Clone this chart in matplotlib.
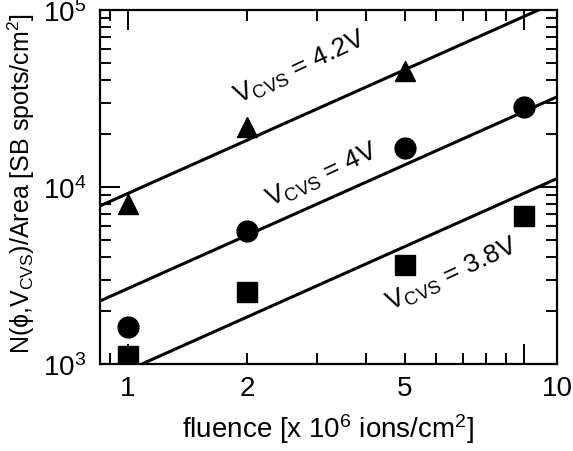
import numpy as np
import matplotlib
matplotlib.use("Agg")
import matplotlib.pyplot as plt
import matplotlib.transforms as mtrans

plt.rcParams['font.family'] = ['Liberation Sans', 'DejaVu Sans']
plt.rcParams['mathtext.fontset'] = 'custom'
plt.rcParams['mathtext.rm'] = 'Liberation Sans'
plt.rcParams['mathtext.it'] = 'Liberation Sans'
plt.rcParams['mathtext.bf'] = 'Liberation Sans:bold'

# measured spot densities vs fluence (x 10^6 ions/cm^2)
fluence_42 = [1, 2, 5]
spots_42 = [8000, 21800, 45000]
fluence_40 = [1, 2, 5, 10]
spots_40 = [1620, 5640, 16600, 28300]
fluence_38 = [1, 2, 5, 10]
spots_38 = [1110, 2550, 3620, 6850]

# power-law fits N = A * fluence^slope
fit_slope = 1.0
fit_A = {'4.2': 9200, '4': 2670, '3.8': 922}

xmin, xmax = 0.85, 12.1

fig = plt.figure(figsize=(5.73, 4.52), dpi=100)
ax = fig.add_axes([0.1745, 0.1925, 0.7975, 0.7832])
ax.set_xscale('log')
ax.set_yscale('log')
ax.set_xlim(xmin, xmax)
ax.set_ylim(1e3, 1e5)

xfit = np.array([xmin, xmax])
for key in ['4.2', '4', '3.8']:
    ax.plot(xfit, fit_A[key] * xfit ** fit_slope, color='black', lw=2.2, zorder=2)

ax.plot(fluence_42, spots_42, ls='none', marker='^', ms=15, color='black', zorder=3)
ax.plot(fluence_40, spots_40, ls='none', marker='o', ms=15, color='black', zorder=3)
ax.plot(fluence_38, spots_38, ls='none', marker='s', ms=14, color='black', zorder=3)

# labels for the fit lines
lab_kw = dict(fontsize=19, rotation=25, rotation_mode='anchor', ha='left', va='baseline')
ax.text(1.90, 29500, r'V$_\mathrm{CVS}$ = 4.2V', **lab_kw)
ax.text(2.29, 7800, r'V$_\mathrm{CVS}$ = 4V', **lab_kw)
ax.text(4.59, 2020, r'V$_\mathrm{CVS}$ = 3.8V', **lab_kw)

# ticks
ax.set_xticks([1, 10], ['1', ''])
ax.set_xticks([0.9, 2, 3, 4, 5, 6, 7, 8, 9],
              ['', '2', '', '', '5', '', '', '', ''], minor=True)
ax.set_yticks([1e3, 1e4, 1e5], [r'$10^{3}$', r'$10^{4}$', r'$10^{5}$'])
ax.set_yticks([k * 10 ** e for e in (3, 4) for k in range(2, 10)], minor=True)
ax.yaxis.set_minor_formatter(plt.NullFormatter())
ax.tick_params(which='both', direction='in', top=True, right=True, width=1.4)
ax.tick_params(which='major', length=14.5)
ax.tick_params(which='minor', length=8)
ax.tick_params(axis='x', which='both', pad=8, labelsize=20)
ax.tick_params(axis='y', which='both', pad=10, labelsize=20)

# "10" sits at the right end of the axis
lab10 = ax.text(xmax, 0.0, '10', transform=mtrans.blended_transform_factory(ax.transData, ax.transAxes),
                ha='center', va='top', fontsize=20)
lab10.set_transform(lab10.get_transform() + mtrans.ScaledTranslation(0, -8 / 72, fig.dpi_scale_trans))

for s in ax.spines.values():
    s.set_linewidth(1.6)

ax.set_xlabel(r'fluence [x 10$^{6}$ ions/cm$^{2}$]', fontsize=20)
ax.xaxis.set_label_coords(0.5, -0.133)
ax.set_ylabel(r'N($\phi$,V$_\mathrm{CVS}$)/Area [SB spots/cm$^{2}$]', fontsize=18)
ax.yaxis.set_label_coords(-0.138, 0.514)

fig.savefig('out.png', dpi=100)
